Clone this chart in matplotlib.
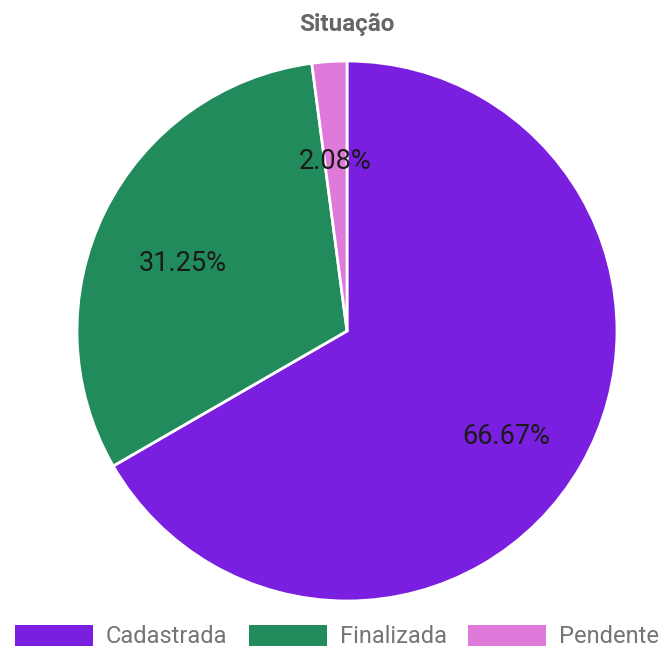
import matplotlib
matplotlib.use('Agg')
import matplotlib.pyplot as plt
from matplotlib.patches import Patch

labels = ['Cadastrada', 'Finalizada', 'Pendente']
values = [32, 15, 1]
colors = ['#7a1ee0', '#228b5b', '#e07ada']

plt.rcParams['font.family'] = ['Roboto', 'DejaVu Sans']

W, H = 668, 648
fig = plt.figure(figsize=(W / 100, H / 100), dpi=100)

# pie centre (347, 331), radius 270 px
cx, cy, r = 347, 331, 270
ax = fig.add_axes([(cx - r) / W, (H - cy - r) / H, 2 * r / W, 2 * r / H])
wedges, texts, autotexts = ax.pie(values, colors=colors, startangle=90, counterclock=False,
                                  autopct='%.2f%%', pctdistance=0.68, radius=1,
                                  wedgeprops=dict(edgecolor='white', linewidth=2),
                                  textprops=dict(fontsize=19.5, color='#1a1a1a'))
# labels sit a little below their ray in the original
for t in autotexts:
    x, y = t.get_position()
    t.set_position((x, y - 14 / r))
ax.set_xlim(-1, 1)
ax.set_ylim(-1, 1)
ax.set_aspect('equal')
ax.axis('off')

fig.text(cx / W, 1 - 24 / H, 'Situação', ha='center', va='center',
         fontsize=17.5, fontweight='bold', color='#666666')

handles = [Patch(facecolor=c, edgecolor='none') for c in colors]
leg = fig.legend(handles, labels, loc='lower center', bbox_to_anchor=(337 / W, -0.026),
                 ncol=3, frameon=False, fontsize=17, handlelength=3.3, handleheight=1.0,
                 handletextpad=0.55, columnspacing=0.9, borderpad=0.2)
for t in leg.get_texts():
    t.set_color('#757575')

fig.savefig('out.png', dpi=100, facecolor='white')
